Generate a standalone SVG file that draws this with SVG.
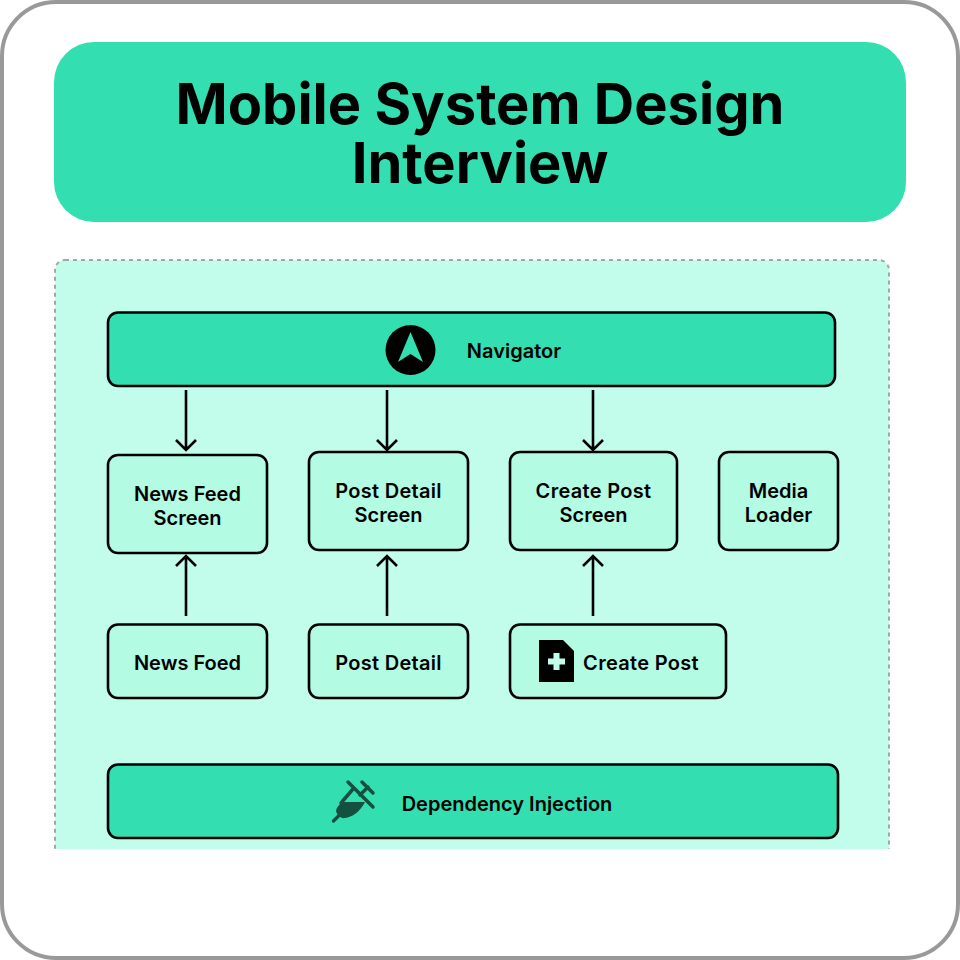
<svg xmlns="http://www.w3.org/2000/svg" width="960" height="960" viewBox="0 0 960 960">
<style>
text{font-family:"Inter","Liberation Sans",sans-serif;text-anchor:middle;fill:#000}
.t{font-size:20px;font-weight:600}
.w{letter-spacing:.3px}
.title{font-size:56px;font-weight:700}
.n{fill:#b3fbe3;stroke:#000;stroke-width:2.6}
.g{fill:#33dfb0;stroke:#000;stroke-width:2.6}
.c{fill:none;stroke:#000;stroke-width:2.6}
</style>
<defs>
<clipPath id="cp"><rect x="40" y="250" width="860" height="599"/></clipPath>
</defs>
<rect x="2" y="2" width="956" height="956" rx="54" fill="#fff" stroke="#999" stroke-width="4"/>
<g id="title">
<rect x="54" y="42" width="852" height="180" rx="40" fill="#33dfb0"/>
<text class="title" x="480" y="124">Mobile System Design</text>
<text class="title" x="480" y="183">Interview</text>
</g>
<g id="panel" clip-path="url(#cp)">
<rect x="55" y="260" width="834" height="640" rx="10" fill="#c2fdec" stroke="#a0a8a5" stroke-width="2" stroke-dasharray="4 4"/>
</g>
<g id="connectors">
<path class="c" d="M186 390V450M176 440L186 450L196 440"/>
<path class="c" d="M387 390V450M377 440L387 450L397 440"/>
<path class="c" d="M593 390V450M583 440L593 450L603 440"/>
<path class="c" d="M186 616V556M176 566L186 556L196 566"/>
<path class="c" d="M387 616V556M377 566L387 556L397 566"/>
<path class="c" d="M593 616V556M583 566L593 556L603 566"/>
</g>
<g id="navigator">
<rect class="g" x="108" y="312.500" width="727" height="73.500" rx="10"/>
<circle cx="410.500" cy="350" r="25" fill="#000"/>
<path d="M410.500 332L398 362L410.500 354L423 362Z" fill="#33dfb0"/>
<text class="t" x="514" y="358">Navigator</text>
</g>
<g id="news-feed-screen">
<rect class="n" x="108" y="455" width="159" height="98" rx="10"/>
<text class="t" x="187.500" y="501">News Feed</text>
<text class="t" x="187.500" y="525">Screen</text>
</g>
<g id="post-detail-screen">
<rect class="n" x="309" y="452" width="159" height="98" rx="10"/>
<text class="t w" x="388.500" y="498">Post Detail</text>
<text class="t" x="388.500" y="522">Screen</text>
</g>
<g id="create-post-screen">
<rect class="n" x="510" y="452" width="167" height="98" rx="10"/>
<text class="t w" x="593.500" y="498">Create Post</text>
<text class="t" x="593.500" y="522">Screen</text>
</g>
<g id="media-loader">
<rect class="n" x="719" y="452" width="119" height="98" rx="10"/>
<text class="t" x="778.500" y="498">Media</text>
<text class="t" x="778.500" y="522">Loader</text>
</g>
<g id="news-feed">
<rect class="n" x="108" y="624.500" width="159" height="73.500" rx="10"/>
<text class="t" x="187.500" y="670">News Foed</text>
</g>
<g id="post-detail">
<rect class="n" x="309" y="624.500" width="159" height="73.500" rx="10"/>
<text class="t w" x="388.500" y="670">Post Detail</text>
</g>
<g id="create-post">
<rect class="n" x="510" y="624.500" width="216" height="73.500" rx="10"/>
<path d="M539 640H563L574 651V682H539Z" fill="#000"/>
<path d="M553.500 653H559.500V658.500H565V664.500H559.500V670H553.500V664.500H548V658.500H553.500Z" fill="#c2fdec"/>
<text class="t w" x="641" y="670">Create Post</text>
</g>
<g id="dependency-injection">
<rect class="g" x="108" y="764.500" width="730" height="73.500" rx="10"/>
<path d="M348 782L373 807M362 782L373 793M360 795L368 787M353 789L341 803M333.500 821L341 813.500" fill="none" stroke="#14503f" stroke-width="3.500" stroke-linecap="round"/>
<path d="M342 802H365C360 812 352 817 345 818C341 819 337 815 336 811C336 808 339 805 342 802Z" fill="#14503f"/>
<text class="t" x="507" y="811">Dependency Injection</text>
</g>
</svg>
